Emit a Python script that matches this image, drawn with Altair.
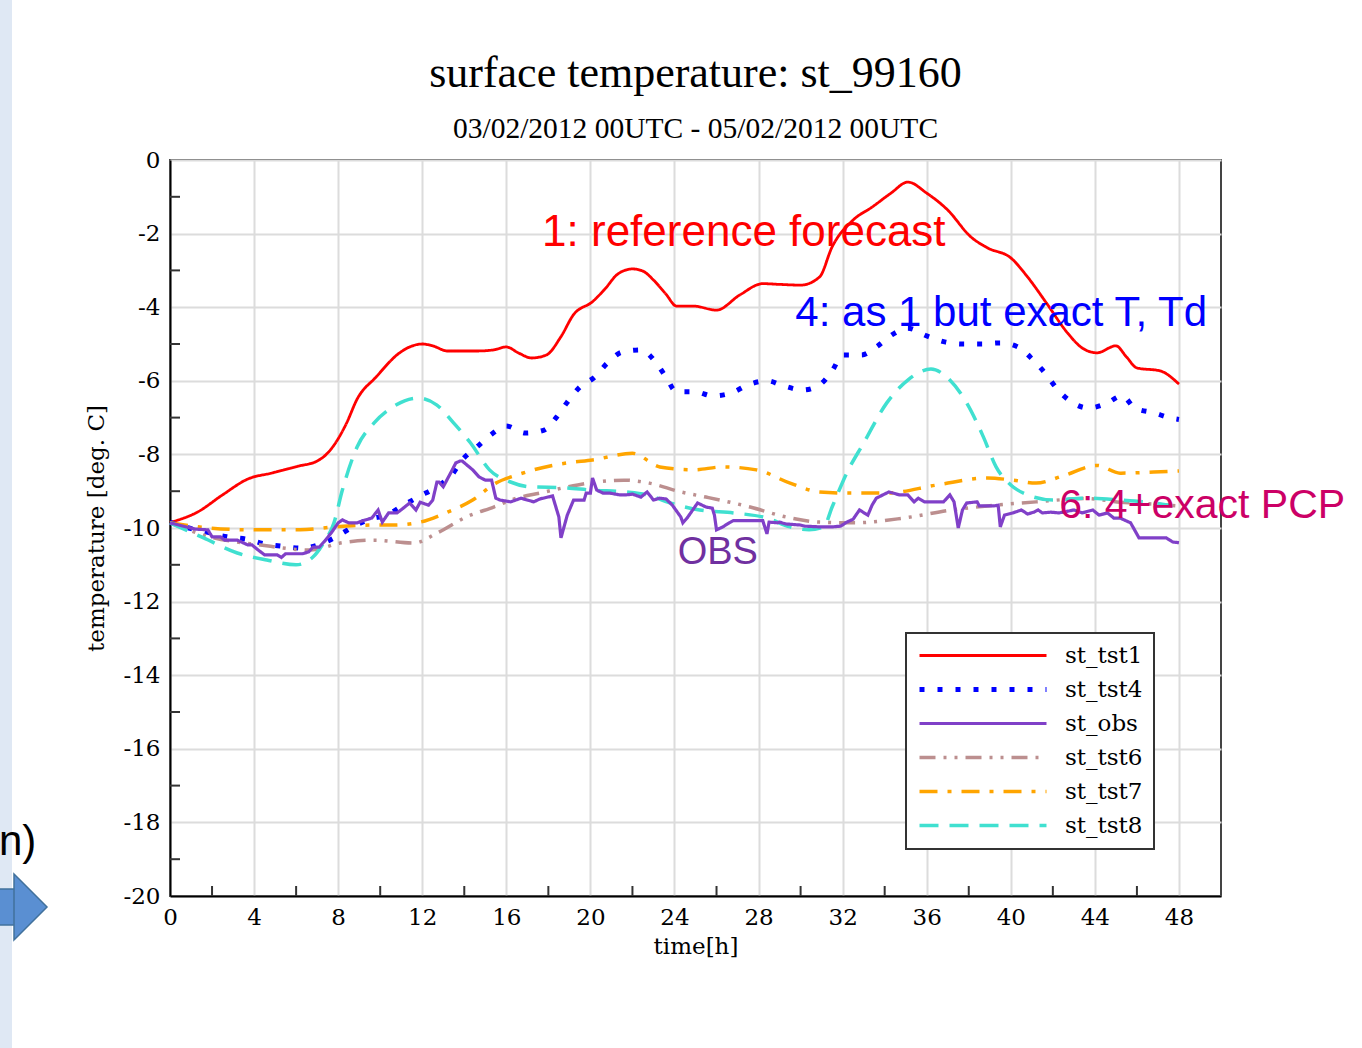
import altair as alt
import pandas as pd

# ---------------- data (hour, temperature [deg C]) ----------------
series_names = ["st_tst1", "st_tst4", "st_obs", "st_tst6", "st_tst7", "st_tst8"]
series_colors = ["#ff0000", "#0000ff", "#8040c8", "#bc8f8f", "#ffa500", "#40e0d0"]
series_dash = [[1, 0], [5, 13], [1, 0], [16, 8, 3, 8, 3, 8], [18, 10, 4, 10], [19, 11]]
series_width = [2.8, 5, 3.2, 3.5, 3.5, 3.5]

tst1 = [(0, -9.85), (1.3, -9.57), (2.5, -9.1), (3.7, -8.67), (4.9, -8.5), (6.1, -8.32),
        (7, -8.18), (7.4, -8.02), (7.8, -7.75), (8.4, -7.15), (8.9, -6.5), (9.8, -5.9),
        (10.9, -5.25), (11.4, -5.08), (12, -5.0), (12.5, -5.05), (13.2, -5.19), (14.6, -5.19),
        (15.4, -5.16), (16, -5.08), (16.6, -5.25), (17.2, -5.38), (17.9, -5.3), (18.6, -4.8),
        (19.2, -4.2), (20.1, -3.85), (20.7, -3.5), (21.3, -3.1), (22, -2.96), (22.5, -3.02),
        (23, -3.26), (23.6, -3.65), (24.1, -3.97), (24.9, -3.97), (26, -4.08), (27.1, -3.67),
        (28.2, -3.36), (29, -3.38), (30, -3.4), (30.9, -3.18), (31.5, -2.36), (32.5, -1.63),
        (33.4, -1.28), (34.3, -0.9), (35.1, -0.6), (36, -0.9), (37, -1.36), (38.1, -2.09),
        (38.9, -2.39), (40, -2.66), (40.8, -3.18), (41.7, -3.89), (42.7, -4.7), (43.4, -5.11),
        (44.1, -5.24), (45, -5.05), (45.5, -5.35), (46, -5.65), (47.1, -5.73), (48, -6.09)]

tst4 = [(0, -9.85), (0.9, -10.0), (1.8, -10.12), (2.7, -10.24), (3.6, -10.3), (4.5, -10.43),
        (5.4, -10.5), (6.3, -10.55), (7.1, -10.45), (7.9, -10.24), (8.7, -9.97), (9.5, -9.76),
        (10.3, -9.65), (11.1, -9.38), (11.9, -9.13), (12.7, -8.88), (13.4, -8.56), (13.9, -8.15),
        (14.6, -7.8), (15.3, -7.45), (16, -7.23), (16.9, -7.42), (17.8, -7.34), (18.4, -6.98),
        (18.9, -6.58), (19.5, -6.17), (20.2, -5.9), (20.8, -5.52), (21.5, -5.22), (22.4, -5.16),
        (23.1, -5.49), (23.6, -5.9), (24.1, -6.3), (25, -6.3), (25.8, -6.41), (26.7, -6.33),
        (27.5, -6.11), (28.4, -6.0), (29.2, -6.14), (30.1, -6.25), (30.9, -6.11), (31.5, -5.73),
        (32, -5.3), (32.9, -5.3), (33.6, -5.08), (34.4, -4.73), (35.1, -4.57), (36, -4.78),
        (36.9, -4.95), (37.7, -5.0), (38.6, -5.0), (39.5, -4.97), (40.4, -5.1), (41.1, -5.46),
        (41.7, -5.84), (42.2, -6.22), (42.9, -6.58), (43.7, -6.74), (44.5, -6.63), (45.3, -6.41),
        (45.9, -6.74), (46.8, -6.87), (47.6, -7.01), (48, -7.05)]

tst6 = [(0, -9.86), (1.9, -10.24), (4.3, -10.46), (6.7, -10.6), (8.1, -10.41), (9.7, -10.33),
        (11.6, -10.41), (12.7, -10.14), (14.1, -9.7), (15.4, -9.43), (16.5, -9.19), (17.6, -9.05),
        (19.4, -8.83), (20.3, -8.75), (21.6, -8.7), (22.8, -8.78), (24.3, -9.02), (25.5, -9.16),
        (27.6, -9.43), (29.3, -9.7), (30.9, -9.84), (32.5, -9.86), (34.9, -9.73), (37.2, -9.51),
        (38.9, -9.4), (41.2, -9.29), (43.6, -9.2), (45.2, -9.3), (46.8, -9.35), (48, -9.4)]

tst7 = [(0, -9.86), (1.9, -10.0), (3.8, -10.05), (6.2, -10.05), (7.8, -9.97), (9.7, -9.92),
        (10.6, -9.92), (11.9, -9.84), (13.2, -9.57), (14.4, -9.24), (15.5, -8.78), (16.5, -8.56),
        (17.3, -8.42), (18.9, -8.23), (20.1, -8.15), (22, -7.97), (23.3, -8.34), (24.9, -8.42),
        (26.3, -8.34), (27.9, -8.42), (29.5, -8.78), (30.9, -9.02), (32.2, -9.05), (34.1, -9.05),
        (36.5, -8.83), (38.9, -8.64), (40.1, -8.7), (41.2, -8.78), (42.5, -8.58), (44.1, -8.3),
        (45.2, -8.51), (46.8, -8.48), (48, -8.45)]

tst8 = [(0, -9.86), (1.6, -10.27), (3.2, -10.68), (4.6, -10.87), (6, -11.0), (6.8, -10.79),
        (7.3, -10.41), (7.8, -9.86), (8.2, -8.97), (8.9, -7.8), (9.7, -7.15), (10.6, -6.71),
        (11.8, -6.47), (12.7, -6.66), (13.5, -7.15), (14.3, -7.69), (15.2, -8.42), (16.2, -8.75),
        (17.1, -8.88), (18.9, -8.91), (20, -8.97), (21.7, -9.02), (22.7, -9.1), (23.8, -9.32),
        (25.2, -9.51), (26.8, -9.59), (28.4, -9.73), (29.5, -9.97), (30.4, -10.05), (31.1, -9.97),
        (31.5, -9.43), (32.2, -8.5), (33, -7.69), (34.1, -6.6), (35.1, -5.98), (36.2, -5.68),
        (37.1, -5.98), (37.9, -6.6), (38.7, -7.53), (39.3, -8.34), (40, -8.83), (40.8, -9.1),
        (42, -9.24), (43.6, -9.19), (45.2, -9.24), (46.8, -9.32), (48, -9.43)]

obs = [(0, -9.86), (1.2, -10.03), (1.8, -10.05), (2.0, -10.24), (2.4, -10.24), (2.6, -10.33),
       (3.2, -10.33), (3.7, -10.46), (3.9, -10.46), (4.2, -10.6), (4.5, -10.73), (5.1, -10.73),
       (5.3, -10.8), (5.5, -10.7), (6.3, -10.7), (6.6, -10.65), (6.8, -10.52), (7.1, -10.52),
       (7.4, -10.33), (7.7, -10.11), (8.0, -9.86), (8.2, -9.78), (8.5, -9.86), (8.9, -9.86),
       (9.3, -9.78), (9.6, -9.73), (9.9, -9.51), (10.1, -9.84), (10.4, -9.59), (10.8, -9.59),
       (11.1, -9.46), (11.4, -9.32), (11.7, -9.51), (11.9, -9.3), (12.3, -9.38), (12.5, -9.24),
       (12.7, -8.75), (12.8, -8.75), (13.0, -8.88), (13.3, -8.56), (13.6, -8.23), (13.8, -8.18),
       (13.9, -8.18), (14.4, -8.42), (14.7, -8.61), (15.0, -8.7), (15.3, -8.7), (15.5, -9.19),
       (15.7, -9.24), (16.2, -9.29), (16.7, -9.19), (17.3, -9.29), (17.6, -9.21), (18.2, -9.13),
       (18.5, -9.7), (18.6, -10.27), (18.9, -9.65), (19.2, -9.24), (19.7, -9.24), (19.8, -9.05),
       (20.0, -9.05), (20.1, -8.64), (20.3, -8.97), (20.6, -9.05), (20.9, -9.05), (21.4, -9.1),
       (21.7, -9.1), (22.0, -9.08), (22.4, -9.16), (22.7, -9.02), (23.0, -9.24), (23.3, -9.19),
       (23.6, -9.21), (23.9, -9.38), (24.3, -9.7), (24.4, -9.86), (24.6, -9.73), (25.1, -9.32),
       (25.5, -9.43), (25.8, -9.46), (25.9, -9.65), (26.0, -10.05), (26.3, -9.97), (26.6, -9.86),
       (26.8, -9.8), (28.2, -9.8), (28.4, -10.16), (28.5, -9.84), (28.9, -9.86), (29.0, -9.84),
       (29.3, -9.89), (30.0, -9.92), (30.2, -9.95), (30.9, -9.97), (31.5, -9.97), (31.9, -9.95),
       (32.2, -9.84), (32.5, -9.76), (32.8, -9.51), (33.2, -9.65), (33.4, -9.38), (33.6, -9.19),
       (34.2, -9.02), (34.7, -9.1), (35.1, -9.1), (35.4, -9.29), (35.6, -9.19), (35.9, -9.29),
       (36.8, -9.29), (37.1, -9.1), (37.3, -9.29), (37.5, -10.0), (37.7, -9.51), (37.9, -9.32),
       (38.4, -9.29), (38.5, -9.4), (39.2, -9.4), (39.4, -9.38), (39.5, -9.97), (39.7, -9.65),
       (40.1, -9.59), (40.5, -9.51), (40.8, -9.62), (41.1, -9.57), (41.3, -9.51), (41.5, -9.59),
       (41.9, -9.57), (42.3, -9.59), (43.0, -9.51), (43.4, -9.59), (43.9, -9.51), (44.2, -9.65),
       (44.6, -9.59), (44.9, -9.73), (45.2, -9.73), (45.7, -9.86), (46.1, -10.27), (47.4, -10.27),
       (47.7, -10.38), (48.0, -10.4)]

x_tick_values = list(range(0, 49, 4))
y_tick_values = list(range(-20, 1, 2))
x_minor_ticks = [2, 6, 10, 14, 18, 22, 26, 30, 34, 38, 42, 46]
y_minor_ticks = [-19, -17, -15, -13, -11, -9, -7, -5, -3, -1]

annot_text = ["1: reference forecast", "4: as 1 but exact T, Td", "6: 4+exact PCP", "OBS"]
annot_hour = [17.7, 29.75, 42.3, 24.15]
annot_temp = [-2.34, -4.51, -9.73, -10.98]
annot_color = ["#ff0000", "#0000ff", "#cc0066", "#7030a0"]
annot_size = [44, 42, 41, 38]

# ---------------- build tables ----------------
def frame(name, pts):
    return pd.DataFrame({"series": name,
                         "hour": [p[0] for p in pts],
                         "temp": [p[1] for p in pts]})

model_df = pd.concat([frame("st_tst1", tst1), frame("st_tst4", tst4), frame("st_tst6", tst6),
                      frame("st_tst7", tst7), frame("st_tst8", tst8)], ignore_index=True)
obs_df = frame("st_obs", obs)

W, H = 1051, 736
serif = "DejaVu Serif"

x_scale = alt.Scale(domain=[0, 50], nice=False, zero=False)
y_scale = alt.Scale(domain=[-20, 0], nice=False, zero=False)

legend = alt.Legend(title=None, orient="none", legendX=736, legendY=473,
                    symbolType="stroke", symbolSize=16129, clipHeight=23,
                    labelFont=serif, labelFontSize=23, labelColor="black",
                    rowPadding=10, padding=11, labelOffset=16,
                    strokeColor="#333333", fillColor="white", labelLimit=0)

x_enc = alt.X("hour:Q", scale=x_scale,
              axis=alt.Axis(values=x_tick_values, title="time[h]", grid=True, ticks=False,
                            labelPadding=10, titlePadding=6, labelFlush=False,
                            labelExpr="'' + datum.value"))
y_enc = alt.Y("temp:Q", scale=y_scale,
              axis=alt.Axis(values=y_tick_values, title="temperature [deg. C]", grid=True,
                            ticks=False, labelPadding=10, titlePadding=14, labelFlush=False,
                            labelExpr="'' + datum.value"))
color_enc = alt.Color("series:N", scale=alt.Scale(domain=series_names, range=series_colors),
                      legend=legend)
dash_enc = alt.StrokeDash("series:N", scale=alt.Scale(domain=series_names, range=series_dash),
                          legend=legend)
width_enc = alt.StrokeWidth("series:N",
                            scale=alt.Scale(type="ordinal", domain=series_names,
                                            range=series_width),
                            legend=legend)

models = alt.Chart(model_df).mark_line(interpolate="monotone").encode(
    x=x_enc, y=y_enc, color=color_enc, strokeDash=dash_enc, strokeWidth=width_enc,
    detail="series:N", order="hour:Q")

observ = alt.Chart(obs_df).mark_line(interpolate="linear").encode(
    x=x_enc, y=y_enc, color=color_enc, strokeDash=dash_enc, strokeWidth=width_enc,
    detail="series:N", order="hour:Q")

xticks = alt.Chart(pd.DataFrame({"hour": x_minor_ticks})).mark_rule(
    color="#333333", strokeWidth=2).encode(x=alt.X("hour:Q", scale=x_scale),
                                            y=alt.value(H), y2=alt.value(H - 10))
yticks = alt.Chart(pd.DataFrame({"temp": y_minor_ticks})).mark_rule(
    color="#333333", strokeWidth=2).encode(y=alt.Y("temp:Q", scale=y_scale),
                                            x=alt.value(0), x2=alt.value(10))

annot_df = pd.DataFrame({"label": annot_text, "hour": annot_hour, "temp": annot_temp,
                         "col": annot_color, "fs": annot_size})
annots = alt.Chart(annot_df).mark_text(align="left", baseline="alphabetic",
                                       font="Liberation Sans").encode(
    x=alt.X("hour:Q", scale=x_scale), y=alt.Y("temp:Q", scale=y_scale), text="label:N",
    color=alt.Color("col:N", scale=None), size=alt.Size("fs:Q", scale=None))

# slide decorations around the chart
one = pd.DataFrame({"k": [0]})
strip = alt.Chart(one).mark_rect(color="#dfe8f4").encode(
    x=alt.value(-170), x2=alt.value(-158), y=alt.value(-160), y2=alt.value(888))
body = alt.Chart(one).mark_rect(color="#5a8fd2", stroke="#41719c", strokeWidth=1.5).encode(
    x=alt.value(-172), x2=alt.value(-155), y=alt.value(729), y2=alt.value(765))
head = alt.Chart(one).mark_point(shape="M -0.5 -1 L 0.5 0 L -0.5 1 Z", filled=True,
                                 color="#5a8fd2", stroke="#41719c", strokeWidth=1.5,
                                 opacity=1, size=4356).encode(
    x=alt.value(-139.5), y=alt.value(747))
ntext = alt.Chart(one).mark_text(text="n)", align="left", baseline="alphabetic",
                                 font="Liberation Sans", fontSize=42, color="black").encode(
    x=alt.value(-171), y=alt.value(695))

# the strip reaches 160 px above the plot, so the title offset compensates for it
chart = alt.layer(strip, body, head, ntext, models, observ, xticks, yticks, annots).resolve_scale(
    color="shared").properties(
    width=W, height=H,
    title=alt.TitleParams(text="surface temperature: st_99160",
                          subtitle="03/02/2012 00UTC - 05/02/2012 00UTC",
                          font="Liberation Serif", fontSize=44, fontWeight="normal",
                          color="black", subtitleFont="Liberation Serif", subtitleFontSize=29.5,
                          subtitleColor="black", anchor="middle", frame="group",
                          offset=-143, subtitlePadding=19),
    autosize=alt.AutoSizeParams(type="none"),
    padding={"left": 170, "top": 160, "right": 141, "bottom": 152},
).configure(background="white").configure_view(
    stroke="#444444", strokeWidth=2
).configure_axis(
    gridColor="#dcdcdc", gridWidth=2, domainColor="black", domainWidth=2,
    labelFont=serif, labelFontSize=23, labelColor="black",
    titleFont=serif, titleFontSize=23, titleFontWeight="normal", titleColor="black"
).configure_legend(strokeWidth=2)

chart.save("out.html", embed_options={"renderer": "svg", "actions": False})
